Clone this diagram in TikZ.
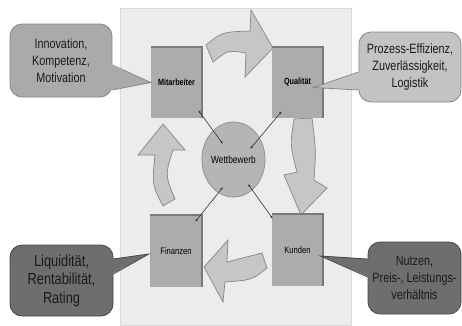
\documentclass[tikz,border=0pt]{standalone}
\usepackage{fontspec}
\setmainfont{Liberation Sans}[FakeStretch=0.8]
\usetikzlibrary{shapes.geometric, arrows.meta, calc}

\begin{document}
\begin{tikzpicture}[x=1pt, y=-1pt,
  panel/.style={fill=gray!15, draw=gray!30, line width=0.5pt},
  bigarrow/.style={fill=gray!45, draw=gray!95, line width=0.7pt, line join=miter},
  box/.style={rectangle, fill=gray!65, minimum width=51pt, minimum height=71pt, inner sep=0pt, font=\fontsize{9.5}{11}\selectfont},
  boxedge/.style={draw=black!52, line width=1.6pt},
  hub/.style={ellipse, fill=gray!58, draw=gray!90, line width=0.7pt, minimum width=59pt, minimum height=75pt, inner sep=0pt, font=\fontsize{10.5}{12}\selectfont},
  link/.style={{Latex[length=3pt,width=2.4pt]}-{Latex[length=3pt,width=2.4pt]}, line width=0.6pt, black!80},
  bubble/.style={rectangle, rounded corners=12pt, line width=0.8pt, align=center, inner sep=0pt, text=black!90, font=\fontsize{13.5}{17}\selectfont},
  light/.style={fill=gray!67, draw=gray!95},
  pale/.style={fill=gray!47, draw=gray!95},
  dark/.style={fill=black!57, draw=black!72}
]
  \useasboundingbox (0,0) rectangle (462,325);
  \fill[panel] (120,8) rectangle (351,325);

  % curved arrows of the cycle
  \draw[bigarrow] (206,45) .. controls (222,32) .. (250,31) -- (251,10) -- (273,48) -- (245,77) -- (246,53) .. controls (228,50) .. (213,62) -- cycle;
  \draw[bigarrow] (312,118) .. controls (316,150) .. (314,180) -- (327,188) -- (301,215) -- (284,175) -- (297,172) .. controls (290,145) .. (294,119) -- cycle;
  \draw[bigarrow] (267,268) .. controls (252,280) .. (225,282) -- (223,302) -- (204,267) -- (228,240) -- (227,262) .. controls (245,258) .. (262,253) -- cycle;
  \draw[bigarrow] (175,199) .. controls (165,175) .. (173,150) -- (185,150) -- (163,124) -- (138,155) -- (155,155) .. controls (152,185) .. (163,206) -- cycle;

  \node[box, font=\fontsize{9}{11}\selectfont\bfseries](mit) at (176.5,82.5) {Mitarbeiter};
  \node[box, font=\fontsize{9}{11}\selectfont\bfseries](qual) at (297.5,82.5) {Qualität};
  \node[box, minimum width=52pt, minimum height=72pt](fin) at (176,251) {Finanzen};
  \node[box, minimum height=72pt](kun) at (297.5,250) {Kunden};
  \foreach \b in {mit, qual, fin, kun}
    \draw[boxedge] (\b.north west) -- (\b.north east) -- (\b.south east);

  \node[hub](wett) at (233.5,159.5) {Wettbewerb};

  % callouts
  \node[bubble, light, minimum width=102pt, minimum height=73pt](inno) at (61,60.5) {Innovation,\\Kompetenz,\\Motivation};
  \path[light, draw=none] ($(inno.east)+(-1.5,4.5)$) -- (mit.west) -- ($(inno.east)+(-1.5,29.5)$) -- cycle;
  \draw[light, fill=none, line width=0.8pt] ($(inno.east)+(0,4.5)$) -- (mit.west) -- ($(inno.east)+(0,29.5)$);

  \node[bubble, pale, minimum width=102pt, minimum height=70pt](proz) at (410,67) {Prozess-Effizienz,\\Zuverlässigkeit,\\Logistik};
  \path[pale, draw=none] ($(proz.west)+(1.5,5)$) -- ($(qual)+(16,5)$) -- ($(proz.west)+(1.5,23)$) -- cycle;
  \draw[pale, fill=none, line width=0.8pt] ($(proz.west)+(0,5)$) -- ($(qual)+(16,5)$) -- ($(proz.west)+(0,23)$);

  \node[bubble, dark, minimum width=103pt, minimum height=71pt, font=\fontsize{16}{18.5}\selectfont](liq) at (61.5,280.5) {Liquidität,\\Rentabilität,\\Rating};
  \path[dark, draw=none] ($(liq.east)+(-1.5,-21.5)$) -- ($(fin.west)+(-1,3)$) -- ($(liq.east)+(-1.5,-6.5)$) -- cycle;
  \draw[dark, fill=none, line width=0.8pt] ($(liq.east)+(0,-21.5)$) -- ($(fin.west)+(-1,3)$) -- ($(liq.east)+(0,-6.5)$);

  \node[bubble, dark, minimum width=93pt, minimum height=72pt](nutz) at (414.5,278) {Nutzen,\\Preis-, Leistungs-\\verhältnis};
  \path[dark, draw=none] ($(nutz.west)+(1.5,-19)$) -- ($(kun)+(23,6)$) -- ($(nutz.west)+(1.5,-1)$) -- cycle;
  \draw[dark, fill=none, line width=0.8pt] ($(nutz.west)+(0,-19)$) -- ($(kun)+(23,6)$) -- ($(nutz.west)+(0,-1)$);

  \draw[link] ($(mit.south east)+(-4,-8)$) -- ($(wett)+(-10.5,-15.5)$);
  \draw[link] ($(qual.south west)+(10,-7)$) -- ($(wett)+(16.5,-10.5)$);
  \draw[link] ($(fin.north east)+(-7,7)$) -- ($(wett)+(-10.5,27.5)$);
  \draw[link] ($(kun.north west)+(1,5)$) -- ($(wett)+(14.5,24.5)$);
\end{tikzpicture}
\end{document}
